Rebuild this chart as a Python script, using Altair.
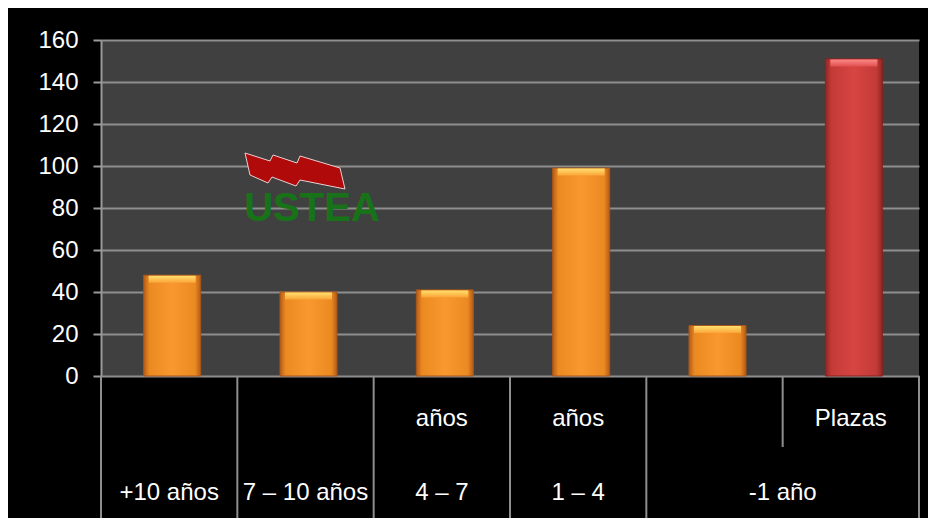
import altair as alt
import pandas as pd

# ---- data ----
categories = ["+10 años", "7 – 10 años", "4 – 7 años", "1 – 4 años", "-1 año", "Plazas"]
values = [48, 40, 41, 99, 24, 151]
is_red = [False, False, False, False, False, True]
upper_labels = ["", "", "años", "años", "", "Plazas"]
lower_labels = ["+10 años", "7 – 10 años", "4 – 7", "1 – 4", "-1 año"]
lower_spans = [1, 1, 1, 1, 2]
y_ticks = [0, 20, 40, 60, 80, 100, 120, 140, 160]
logo_text = "USTEA"

# ---- tables built from the arrays ----
bars = pd.DataFrame({
    "cat": categories,
    "pos": [i + 0.5 for i in range(len(categories))],
    "value": values,
    "red": is_red,
})
upper = pd.DataFrame({"pos": [i + 0.5 for i in range(len(upper_labels))], "label": upper_labels})
upper = upper[upper["label"] != ""]

lower_pos, full_bounds, short_bounds = [], [0], []
start = 0
for s in lower_spans:
    lower_pos.append(start + s / 2)
    short_bounds += [start + k for k in range(1, s)]
    start += s
    full_bounds.append(start)
lower = pd.DataFrame({"pos": lower_pos, "label": lower_labels})
full_df = pd.DataFrame({"b": full_bounds})
short_df = pd.DataFrame({"b": short_bounds})

W, H = 818, 336
GRID = "#8e8e8e"
FONT = "Liberation Sans"

xscale = alt.Scale(domain=[0, len(categories)], nice=False, zero=False, padding=0)
yscale = alt.Scale(domain=[0, 160], nice=False)


def hgrad(c_edge, c_mid, c_center):
    return alt.LinearGradient(
        gradient="linear", x1=0, x2=1, y1=0, y2=0,
        stops=[
            alt.GradientStop(offset=0, color=c_edge),
            alt.GradientStop(offset=0.1, color=c_mid),
            alt.GradientStop(offset=0.5, color=c_center),
            alt.GradientStop(offset=0.9, color=c_mid),
            alt.GradientStop(offset=1, color=c_edge),
        ],
    )


def vgrad(c_top, c_bot):
    return alt.LinearGradient(
        gradient="linear", x1=0, x2=0, y1=0, y2=1,
        stops=[alt.GradientStop(offset=0, color=c_top), alt.GradientStop(offset=1, color=c_bot)],
    )


base = alt.Chart(bars).encode(
    x=alt.X("pos:Q", scale=xscale, axis=None),
    y=alt.Y(
        "value:Q",
        scale=yscale,
        axis=alt.Axis(
            values=y_ticks, title=None, grid=True, gridColor=GRID, gridWidth=2,
            domainColor="#9a9a9a", domainWidth=2, tickColor="#9a9a9a", tickWidth=2,
            tickSize=8, labelColor="white", labelFontSize=24, labelFont=FONT,
            labelPadding=15,
        ),
    ),
)

orange_bars = base.transform_filter("!datum.red").mark_bar(
    width=57, xOffset=3, fill=hgrad("#B55C16", "#EC8A22", "#F8982E"),
    stroke="#A9561A", strokeWidth=1
)
red_bars = base.transform_filter("datum.red").mark_bar(
    width=57, xOffset=3, fill=hgrad("#8E2624", "#C23A37", "#D84542"),
    stroke="#86231F", strokeWidth=1
)
orange_hi = base.transform_filter("!datum.red").mark_tick(
    orient="horizontal", size=47, thickness=7, xOffset=3, yOffset=4, opacity=1,
    color=vgrad("#FFE070", "#FBA437"),
)
red_hi = base.transform_filter("datum.red").mark_tick(
    orient="horizontal", size=47, thickness=7, xOffset=3, yOffset=4, opacity=1,
    color=vgrad("#FF8A8A", "#E05050"),
)

full_rules = alt.Chart(full_df).mark_rule(color=GRID, strokeWidth=2).encode(
    x=alt.X("b:Q", scale=xscale, axis=None), y=alt.value(H), y2=alt.value(H + 150)
)
short_rules = alt.Chart(short_df).mark_rule(color=GRID, strokeWidth=2).encode(
    x=alt.X("b:Q", scale=xscale, axis=None), y=alt.value(H), y2=alt.value(H + 71)
)

upper_text = alt.Chart(upper).mark_text(
    font=FONT, fontSize=24, color="white", baseline="middle"
).encode(x=alt.X("pos:Q", scale=xscale, axis=None), y=alt.value(H + 43), text="label:N")
lower_text = alt.Chart(lower).mark_text(
    font=FONT, fontSize=24, color="white", baseline="middle"
).encode(x=alt.X("pos:Q", scale=xscale, axis=None), y=alt.value(H + 117), text="label:N")

# decorative logo
flag_path = ("M -1 -0.36 L -0.5 -0.2 L -0.44 -0.32 L 0.04 -0.16 L 0.1 -0.3 L 0.9 -0.06 "
             "L 1.0 0.36 L 0.1 0.18 L 0.02 0.3 L -0.46 0.12 L -0.54 0.24 L -0.9 0.08 Z")
flag = alt.Chart(pd.DataFrame({"k": [0]})).mark_point(
    shape=flag_path, size=10000, filled=True, color="#B10A0A", opacity=1,
    stroke="#E8D0D0", strokeWidth=1,
).encode(x=alt.value(194), y=alt.value(131))
logo = alt.Chart(pd.DataFrame({"t": [logo_text]})).mark_text(
    font=FONT, fontSize=40, fontWeight="bold", color="#187318",
).encode(x=alt.value(211), y=alt.value(169), text="t:N")

chart = alt.layer(
    orange_bars, red_bars, orange_hi, red_hi,
    full_rules, short_rules, upper_text, lower_text,
    flag, logo,
).properties(
    width=W, height=H, background="black",
    padding={"left": 93, "top": 32, "right": 9, "bottom": 142},
    autosize=alt.AutoSizeParams(type="none"),
).configure_view(fill="#404040", stroke=None)

chart.save("out.html", embed_options={"renderer": "svg", "actions": False})
